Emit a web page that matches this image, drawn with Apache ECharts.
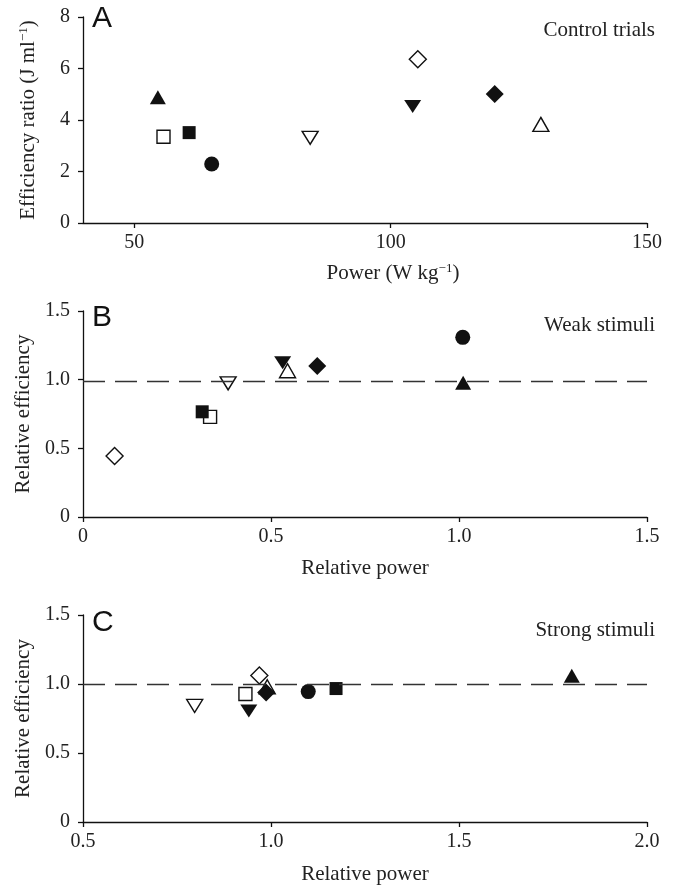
<!DOCTYPE html>
<html>
<head>
<meta charset="utf-8">
<script src="https://cdn.jsdelivr.net/npm/echarts@6/dist/echarts.min.js"></script>
<style>
  html, body { margin: 0; padding: 0; background: #fff; }
  #chart { width: 675px; height: 886px; }
</style>
</head>
<body>
<div id="chart"></div>
<script>
// one entry per subject, same order in every array
const subjects = ["S1", "S2", "S3", "S4", "S5", "S6", "S7", "S8", "S9"];

// panel A - control trials
const controlPower = [54.6, 55.7, 60.7, 65.1, 84.3, 105.3, 104.3, 129.3, 120.3];
const controlEfficiency = [4.88, 3.35, 3.51, 2.29, 3.31, 6.36, 4.52, 3.83, 5.01];

// panel B - weak stimuli
const weakPower = [1.011, 0.338, 0.317, 1.01, 0.386, 0.084, 0.531, 0.544, 0.623];
const weakEfficiency = [0.977, 0.729, 0.766, 1.308, 0.973, 0.445, 1.123, 1.065, 1.099];

// panel C - strong stimuli
const strongPower = [1.8, 0.932, 1.173, 1.099, 0.797, 0.969, 0.941, 0.99, 0.987];
const strongEfficiency = [1.059, 0.928, 0.967, 0.945, 0.841, 1.061, 0.804, 0.98, 0.938];

// dashed reference lines
const weakReference = 0.99;
const strongReference = 1.0;

const controlPowerTicks = [50, 100, 150];
const panelLetters = ["A", "B", "C"];
const panelNotes = ["Control trials", "Weak stimuli", "Strong stimuli"];

// marker look for each subject
const markerStyles = [
  { symbol: "triangle", rotate: 0, filled: true, size: [16, 14] },
  { symbol: "rect", rotate: 0, filled: false, size: [13, 13] },
  { symbol: "rect", rotate: 0, filled: true, size: [13, 13] },
  { symbol: "circle", rotate: 0, filled: true, size: 15 },
  { symbol: "triangle", rotate: 180, filled: false, size: [16, 13] },
  { symbol: "diamond", rotate: 0, filled: false, size: [17, 17] },
  { symbol: "triangle", rotate: 180, filled: true, size: [17, 13] },
  { symbol: "triangle", rotate: 0, filled: false, size: [16, 14] },
  { symbol: "diamond", rotate: 0, filled: true, size: [18, 18] },
];

const serif = "Liberation Serif";
const ink = "#111";

const grids = [
  { left: 83, width: 564, top: 17, height: 206 },
  { left: 83, width: 564, top: 311, height: 206 },
  { left: 83, width: 564, top: 615, height: 207 },
];

const fmtHalf = (v) => (v === 0 ? "0" : v.toFixed(1));

const baseAxis = {
  splitLine: { show: false },
  axisLine: { onZero: false, lineStyle: { color: ink, width: 1.3 } },
  axisTick: { length: 5, lineStyle: { color: ink, width: 1.3 } },
  axisLabel: { color: "#222", fontFamily: serif, fontSize: 20, margin: 10 },
  nameLocation: "middle",
  nameTextStyle: { color: "#222", fontFamily: serif, fontSize: 21 },
};

const supRich = {
  t: { fontFamily: serif, fontSize: 21, color: "#222", lineHeight: 22 },
  s: { fontFamily: serif, fontSize: 13, color: "#222", verticalAlign: "top", lineHeight: 22 },
};

const xAxes = [
  {
    ...baseAxis,
    gridIndex: 0,
    type: "value",
    min: 40,
    max: 150,
    axisTick: { ...baseAxis.axisTick, customValues: controlPowerTicks },
    axisLabel: { ...baseAxis.axisLabel, customValues: controlPowerTicks },
    name: "{t|Power (W kg}{s|\u22121}{t|)}",
    nameGap: 39,
    nameTextStyle: { ...baseAxis.nameTextStyle, rich: supRich, padding: [0, 0, 0, 56] },
  },
  {
    ...baseAxis,
    gridIndex: 1,
    type: "value",
    min: 0,
    max: 1.5,
    interval: 0.5,
    axisLabel: { ...baseAxis.axisLabel, formatter: fmtHalf },
    name: "Relative power",
    nameGap: 41,
  },
  {
    ...baseAxis,
    gridIndex: 2,
    type: "value",
    min: 0.5,
    max: 2.0,
    interval: 0.5,
    axisLabel: { ...baseAxis.axisLabel, formatter: fmtHalf },
    name: "Relative power",
    nameGap: 42,
  },
];

const yAxes = [
  {
    ...baseAxis,
    gridIndex: 0,
    type: "value",
    min: 0,
    max: 8,
    interval: 2,
    axisLabel: { ...baseAxis.axisLabel, margin: 13 },
    name: "{t|Efficiency ratio (J ml}{s|\u22121}{t|)}",
    nameGap: 44,
    nameTextStyle: { ...baseAxis.nameTextStyle, rich: supRich },
  },
  {
    ...baseAxis,
    gridIndex: 1,
    type: "value",
    min: 0,
    max: 1.5,
    interval: 0.5,
    axisLabel: { ...baseAxis.axisLabel, margin: 13, formatter: fmtHalf },
    name: "Relative efficiency",
    nameGap: 44,
  },
  {
    ...baseAxis,
    gridIndex: 2,
    type: "value",
    min: 0,
    max: 1.5,
    interval: 0.5,
    axisLabel: { ...baseAxis.axisLabel, margin: 13, formatter: fmtHalf },
    name: "Relative efficiency",
    nameGap: 44,
  },
];

const panels = [
  { xs: controlPower, ys: controlEfficiency },
  { xs: weakPower, ys: weakEfficiency },
  { xs: strongPower, ys: strongEfficiency },
];

const series = [];

// dashed reference lines first so the markers sit on top
[[1, weakReference], [2, strongReference]].forEach(([p, level]) => {
  series.push({
    type: "line",
    xAxisIndex: p,
    yAxisIndex: p,
    data: [],
    z: 1,
    markLine: {
      silent: true,
      symbol: "none",
      label: { show: false },
      lineStyle: { color: "#333", width: 1.3, type: [22, 10] },
      data: [{ yAxis: level }],
    },
  });
});

panels.forEach((panel, p) => {
  subjects.forEach((name, i) => {
    const m = markerStyles[i];
    series.push({
      name: name,
      type: "scatter",
      xAxisIndex: p,
      yAxisIndex: p,
      z: 3,
      symbol: m.symbol,
      symbolRotate: m.rotate,
      symbolSize: m.size,
      itemStyle: {
        color: m.filled ? ink : "#fff",
        borderColor: ink,
        borderWidth: m.filled ? 0 : 1.4,
        opacity: 1,
      },
      data: [[panel.xs[i], panel.ys[i]]],
    });
  });
});

const graphics = [];
const letterY = [19, 318, 623];
const noteY = [30, 325, 630];
panelLetters.forEach((txt, p) => {
  graphics.push({
    type: "text",
    x: 92,
    y: letterY[p],
    style: {
      text: txt,
      font: "30px 'Liberation Sans', Arial, sans-serif",
      fill: "#111",
      textAlign: "left",
      textVerticalAlign: "middle",
    },
  });
  graphics.push({
    type: "text",
    x: 655,
    y: noteY[p],
    style: {
      text: panelNotes[p],
      font: "21px 'Liberation Serif', serif",
      fill: "#222",
      textAlign: "right",
      textVerticalAlign: "middle",
    },
  });
});

const chart = echarts.init(document.getElementById("chart"), null, { renderer: "canvas" });

const option = {
  backgroundColor: "#fff",
  animation: false,
  grid: grids,
  xAxis: xAxes,
  yAxis: yAxes,
  series: series,
  graphic: graphics,
};

chart.setOption(option);
</script>
</body>
</html>
